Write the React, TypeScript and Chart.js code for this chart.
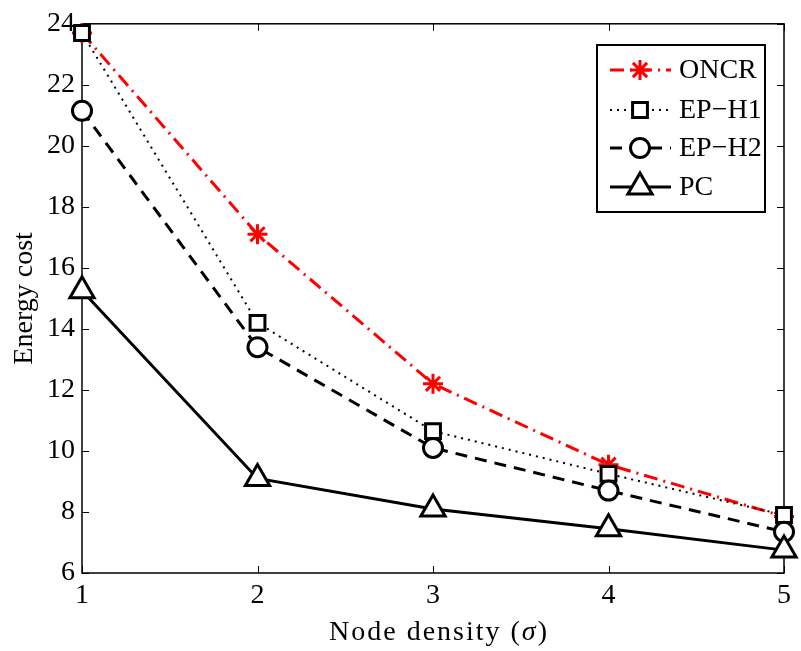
import React, { useEffect, useRef } from 'react';
import { Chart, registerables } from 'chart.js';

Chart.register(...registerables);

// ---- data ----
const densityLabels = ['1', '2', '3', '4', '5'];
const oncrValues = [23.7, 17.1, 12.2, 9.55, 7.85];
const eph1Values = [23.7, 14.2, 10.65, 9.25, 7.9];
const eph2Values = [21.15, 13.4, 10.1, 8.7, 7.35];
const pcValues = [15.25, 9.1, 8.1, 7.45, 6.75];
const seriesNames = ['ONCR', 'EP\u2212H1', 'EP\u2212H2', 'PC'];
const yMin = 6;
const yMax = 24;
const yStep = 2;
const yTitle = 'Energy cost';
const xTitleParts = ['Node density (', '\u03c3', ')'];

const SERIF = '"Liberation Serif", "Times New Roman", serif';

type Style = {
  color: string;
  width: number;
  dash: number[];
  point: string;
  radius: number;
};

const styles: Style[] = [
  { color: '#ff0000', width: 3, dash: [14, 6, 2, 6], point: 'star', radius: 10 },
  { color: '#000000', width: 2, dash: [2, 5], point: 'rect', radius: 10.5 },
  { color: '#000000', width: 3, dash: [12, 8], point: 'circle', radius: 9.5 },
  { color: '#000000', width: 3, dash: [], point: 'triangle', radius: 14 },
];

function drawMarker(ctx: CanvasRenderingContext2D, style: string, x: number, y: number, r: number, color: string) {
  ctx.save();
  ctx.strokeStyle = color;
  ctx.fillStyle = '#ffffff';
  ctx.lineWidth = 3;
  ctx.setLineDash([]);
  ctx.beginPath();
  if (style === 'star') {
    for (let i = 0; i < 4; i++) {
      const a = (i * Math.PI) / 4;
      ctx.moveTo(x - Math.cos(a) * r, y - Math.sin(a) * r);
      ctx.lineTo(x + Math.cos(a) * r, y + Math.sin(a) * r);
    }
    ctx.stroke();
  } else if (style === 'rect') {
    const s = Math.SQRT1_2 * r;
    ctx.rect(x - s, y - s, 2 * s, 2 * s);
    ctx.fill();
    ctx.stroke();
  } else if (style === 'circle') {
    ctx.arc(x, y, r, 0, Math.PI * 2);
    ctx.fill();
    ctx.stroke();
  } else if (style === 'triangle') {
    let a = 0;
    ctx.moveTo(x + Math.sin(a) * r, y - Math.cos(a) * r);
    a += (2 * Math.PI) / 3;
    ctx.lineTo(x + Math.sin(a) * r, y - Math.cos(a) * r);
    a += (2 * Math.PI) / 3;
    ctx.lineTo(x + Math.sin(a) * r, y - Math.cos(a) * r);
    ctx.closePath();
    ctx.fill();
    ctx.stroke();
  }
  ctx.restore();
}

const framePlugin = {
  id: 'matlabFrame',
  beforeDatasetsDraw(chart: any) {
    const { ctx, chartArea } = chart;
    const { left, right, top, bottom } = chartArea;
    const xs = chart.scales.x;
    const ys = chart.scales.y;
    ctx.save();
    ctx.strokeStyle = '#000';
    ctx.lineWidth = 1.5;
    ctx.strokeRect(left, top, right - left, bottom - top);
    const tl = 7;
    ctx.beginPath();
    for (let v = yMin; v <= yMax; v += yStep) {
      const py = Math.round(ys.getPixelForValue(v)) + 0.5;
      ctx.moveTo(left, py);
      ctx.lineTo(left + tl, py);
      ctx.moveTo(right, py);
      ctx.lineTo(right - tl, py);
    }
    for (let i = 0; i < densityLabels.length; i++) {
      const px = Math.round(xs.getPixelForValue(i)) + 0.5;
      ctx.moveTo(px, bottom);
      ctx.lineTo(px, bottom - tl);
      ctx.moveTo(px, top);
      ctx.lineTo(px, top + tl);
    }
    ctx.lineWidth = 1;
    ctx.stroke();
    ctx.restore();
  },
  afterDraw(chart: any) {
    const { ctx, chartArea } = chart;
    ctx.save();
    // Y title
    ctx.fillStyle = '#000';
    ctx.font = `28px ${SERIF}`;
    ctx.textAlign = 'center';
    ctx.textBaseline = 'middle';
    ctx.translate(25, (chartArea.top + chartArea.bottom) / 2);
    ctx.rotate(-Math.PI / 2);
    ctx.fillText(yTitle, 0, 0);
    ctx.restore();

    // X title with italic sigma
    ctx.save();
    ctx.fillStyle = '#000';
    ctx.textBaseline = 'middle';
    ctx.textAlign = 'left';
    try { (ctx as any).letterSpacing = '2px'; } catch (e) { /* ignore */ }
    const fonts = [`28px ${SERIF}`, `italic 28px ${SERIF}`, `28px ${SERIF}`];
    let total = 0;
    const widths: number[] = [];
    xTitleParts.forEach((p, i) => {
      ctx.font = fonts[i];
      const w = ctx.measureText(p).width;
      widths.push(w);
      total += w;
    });
    let x = 439 - total / 2;
    xTitleParts.forEach((p, i) => {
      ctx.font = fonts[i];
      ctx.fillText(p, x, 633);
      x += widths[i];
    });
    ctx.restore();

    // Legend
    ctx.save();
    const bx = 597, by = 45, bw = 168, bh = 167;
    ctx.fillStyle = '#fff';
    ctx.fillRect(bx, by, bw, bh);
    ctx.strokeStyle = '#000';
    ctx.lineWidth = 2;
    ctx.strokeRect(bx, by, bw, bh);
    const rowsY = [70, 110, 148, 187];
    seriesNames.forEach((name, i) => {
      const st = styles[i];
      const yy = rowsY[i];
      ctx.save();
      ctx.strokeStyle = st.color;
      ctx.lineWidth = st.width;
      ctx.setLineDash(st.dash);
      ctx.beginPath();
      ctx.moveTo(610, yy);
      ctx.lineTo(671, yy);
      ctx.stroke();
      ctx.restore();
      drawMarker(ctx, st.point, 640, yy, st.radius, st.color);
      ctx.fillStyle = '#000';
      ctx.font = `28px ${SERIF}`;
      ctx.textAlign = 'left';
      ctx.textBaseline = 'middle';
      ctx.fillText(name, 679, yy + 1);
    });
    ctx.restore();
  },
};

export default function App() {
  const ref = useRef<HTMLCanvasElement | null>(null);
  useEffect(() => {
    if (!ref.current) return;
    const all = [oncrValues, eph1Values, eph2Values, pcValues];
    const orders = [4, 3, 2, 1];
    const chart = new Chart(ref.current, {
      type: 'line',
      data: {
        labels: densityLabels,
        datasets: all.map((vals, i) => ({
          label: seriesNames[i],
          data: vals,
          borderColor: styles[i].color,
          borderWidth: styles[i].width,
          borderDash: styles[i].dash,
          pointStyle: styles[i].point as any,
          pointRadius: styles[i].radius,
          pointBorderWidth: 3,
          pointBorderColor: styles[i].color,
          pointBackgroundColor: '#ffffff',
          tension: 0,
          fill: false,
          clip: false as any,
          order: orders[i],
        })),
      },
      options: {
        responsive: false,
        animation: false,
        devicePixelRatio: 1,
        layout: { padding: { left: 0, top: 19, right: 16, bottom: 0 } },
        plugins: {
          legend: { display: false },
          title: { display: false },
          tooltip: { enabled: false },
        },
        scales: {
          x: {
            type: 'category',
            offset: false,
            grid: { display: false, drawTicks: false },
            border: { display: false },
            ticks: { color: '#000', font: { family: SERIF, size: 28 }, padding: 6, maxRotation: 0, autoSkip: false },
            afterFit: (s: any) => { s.height = 78; },
          },
          y: {
            type: 'linear',
            min: yMin,
            max: yMax,
            grid: { display: false, drawTicks: false },
            border: { display: false },
            ticks: { color: '#000', stepSize: yStep, font: { family: SERIF, size: 28 }, padding: 7 },
            afterFit: (s: any) => { s.width = 82; },
          },
        },
      },
      plugins: [framePlugin],
    });
    return () => chart.destroy();
  }, []);
  return (
    <canvas
      ref={ref}
      width={801}
      height={651}
      style={{ position: 'absolute', left: 0, top: 0, width: 801, height: 651 }}
    />
  );
}
